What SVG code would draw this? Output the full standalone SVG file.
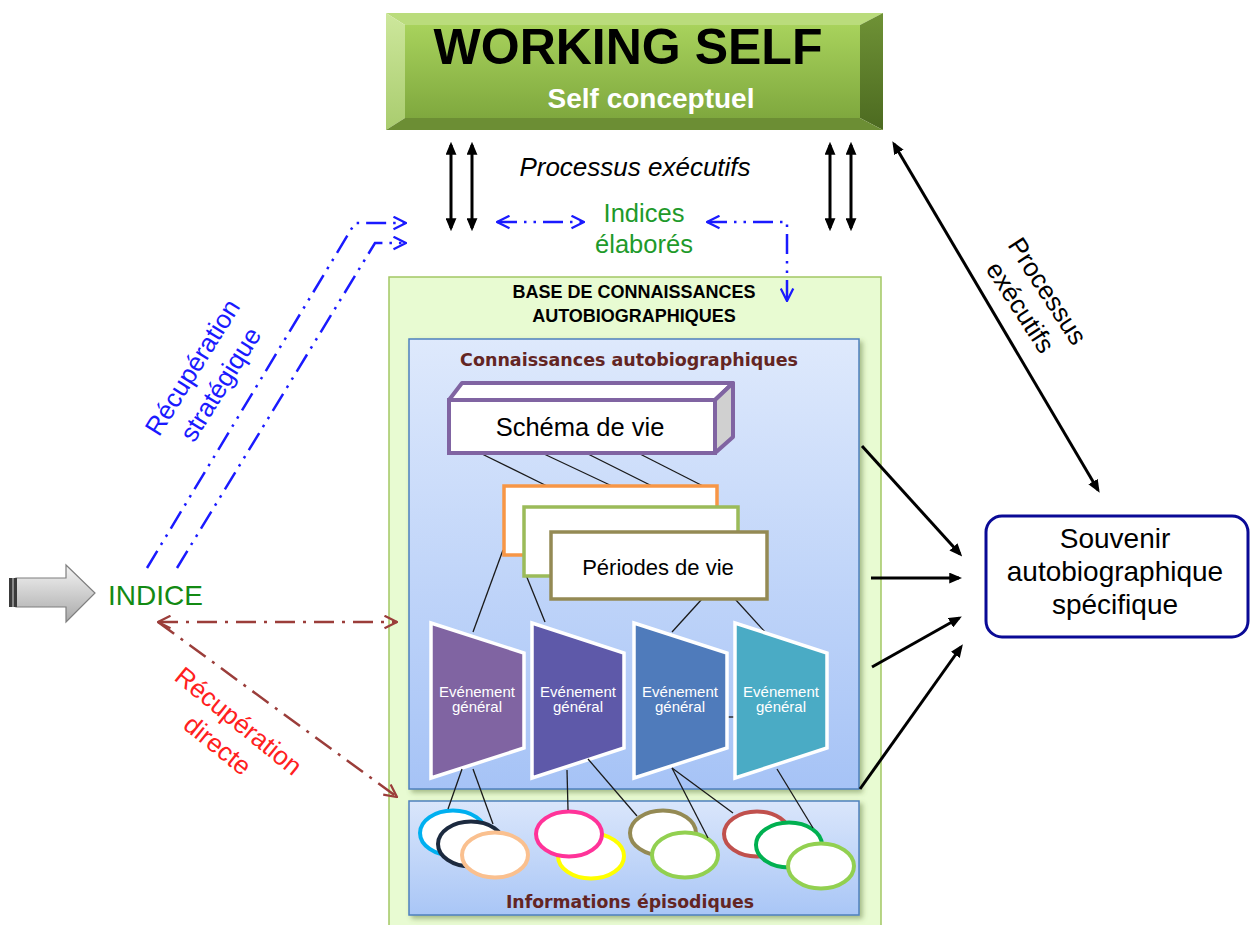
<svg xmlns="http://www.w3.org/2000/svg" width="1251" height="925" viewBox="0 0 1251 925">
<defs>
<linearGradient id="gFace" x1="0" y1="0" x2="0" y2="1"><stop offset="0" stop-color="#a8d25c"/><stop offset="1" stop-color="#7fa83e"/></linearGradient>
<linearGradient id="gRight" x1="0" y1="0" x2="0" y2="1"><stop offset="0" stop-color="#6f9236"/><stop offset="1" stop-color="#4c6a20"/></linearGradient>
<linearGradient id="gLeft" x1="0" y1="0" x2="0" y2="1"><stop offset="0" stop-color="#cde79c"/><stop offset="1" stop-color="#a9cc6e"/></linearGradient>
<linearGradient id="gBlue" x1="0" y1="0" x2="0" y2="1"><stop offset="0" stop-color="#dee9fc"/><stop offset="1" stop-color="#a6c3f6"/></linearGradient>
<linearGradient id="gBlue2" x1="0" y1="0" x2="0" y2="1"><stop offset="0" stop-color="#dae6fb"/><stop offset="1" stop-color="#a9c6f6"/></linearGradient>
<linearGradient id="gGray" x1="0" y1="0" x2="0" y2="1"><stop offset="0" stop-color="#f4f4f4"/><stop offset="1" stop-color="#a9a9a9"/></linearGradient>
<filter id="shadow" x="-5%" y="-5%" width="115%" height="115%"><feDropShadow dx="3" dy="3" stdDeviation="2.5" flood-color="#556b2f" flood-opacity="0.45"/></filter>
<marker id="ah" viewBox="0 0 12 10" refX="9" refY="5" markerWidth="13" markerHeight="11" orient="auto-start-reverse" markerUnits="userSpaceOnUse"><path d="M0,0 L12,5 L0,10 z" fill="#000"/></marker>
<marker id="blueA" viewBox="0 0 12 12" refX="11" refY="6" markerWidth="15" markerHeight="15" orient="auto-start-reverse" markerUnits="userSpaceOnUse"><path d="M1,1 L11,6 L1,11" fill="none" stroke="#1a1aff" stroke-width="1.8"/></marker>
<marker id="brownA" viewBox="0 0 12 12" refX="11" refY="6" markerWidth="15" markerHeight="15" orient="auto-start-reverse" markerUnits="userSpaceOnUse"><path d="M1,1 L11,6 L1,11" fill="none" stroke="#9b3d3a" stroke-width="1.8"/></marker>
<style>
.sans{font-family:"Liberation Sans",Arial,sans-serif}
.dv{font-family:"DejaVu Sans",Verdana,sans-serif}
.tree{stroke:#1a1a1a;stroke-width:1.3;fill:none}
.blk{stroke:#000;stroke-width:3;fill:none}
.blue{stroke:#1a1aff;stroke-width:2.5;fill:none;stroke-dasharray:20 7 2.5 7 2.5 7}
.brown{stroke:#9b3d3a;stroke-width:2.5;fill:none;stroke-dasharray:20 8 3 8}
.ev{stroke:#fff;stroke-width:3.5}
.evt{font-family:"Liberation Sans",Arial,sans-serif;font-size:15px;fill:#fff;text-anchor:middle}
.ell{fill:#fff;stroke-width:4}
</style>
</defs>
<rect width="1251" height="925" fill="#fff"/>

<g id="working-self">
<rect x="405" y="25" width="455" height="93" fill="url(#gFace)"/>
<polygon points="386,13 883,13 860,25 405,25" fill="#badc7c"/>
<polygon points="386,13 405,25 405,118 386,130" fill="url(#gLeft)"/>
<polygon points="883,13 883,130 860,118 860,25" fill="url(#gRight)"/>
<polygon points="386,130 405,118 860,118 883,130" fill="#6c8e34"/>
<text x="628" y="64" class="sans" font-size="50" font-weight="bold" text-anchor="middle" fill="#000">WORKING SELF</text>
<text x="651" y="108" class="sans" font-size="28" font-weight="bold" text-anchor="middle" fill="#fff">Self conceptuel</text>
</g>

<g id="labels-top">
<text x="635" y="176" class="sans" font-size="26" font-style="italic" text-anchor="middle" fill="#000">Processus exécutifs</text>
<text x="644" y="222" class="sans" font-size="25.5" text-anchor="middle" fill="#1e9a2a">Indices</text>
<text x="644" y="253" class="sans" font-size="25.5" text-anchor="middle" fill="#1e9a2a">élaborés</text>
</g>

<g id="base-connaissances">
<rect x="389" y="277" width="492" height="670" fill="#e8fbd2" stroke="#a3c764" stroke-width="1.5"/>
<text x="634" y="298" class="sans" font-size="18" font-weight="bold" text-anchor="middle" fill="#000">BASE DE CONNAISSANCES</text>
<text x="634" y="322" class="sans" font-size="18" font-weight="bold" text-anchor="middle" fill="#000">AUTOBIOGRAPHIQUES</text>
</g>

<g id="connaissances">
<rect x="409" y="339" width="450" height="450" fill="url(#gBlue)" stroke="#4f81bd" stroke-width="1.5" filter="url(#shadow)"/>
<text x="629" y="366" class="dv" font-size="17.5" font-weight="bold" text-anchor="middle" fill="#632523">Connaissances autobiographiques</text>
</g>

<g id="episodiques">
<rect x="409" y="801" width="450" height="114" fill="url(#gBlue2)" stroke="#4f81bd" stroke-width="1.5" filter="url(#shadow)"/>
<text x="630" y="908" class="dv" font-size="17.3" font-weight="bold" text-anchor="middle" fill="#632523">Informations épisodiques</text>
</g>

<g id="tree-lines">
<line class="tree" x1="482" y1="454" x2="547" y2="486"/>
<line class="tree" x1="544" y1="454" x2="612" y2="486"/>
<line class="tree" x1="588" y1="454" x2="652" y2="486"/>
<line class="tree" x1="640" y1="454" x2="703" y2="486"/>
<line class="tree" x1="503" y1="550" x2="473" y2="632"/>
<line class="tree" x1="524" y1="570" x2="545" y2="622"/>
<line class="tree" x1="702" y1="599" x2="672" y2="632"/>
<line class="tree" x1="735" y1="599" x2="765" y2="632"/>
<line class="tree" x1="727" y1="717" x2="735" y2="717"/>
</g>

<g id="schema-de-vie">
<polygon points="449,400 462,383 733,383 715,400" fill="#fff" stroke="#8064a2" stroke-width="4" stroke-linejoin="round"/>
<polygon points="715,400 733,383 733,437 715,453" fill="#d0d0d0" stroke="#8064a2" stroke-width="4" stroke-linejoin="round"/>
<rect x="449" y="400" width="266" height="53" fill="#fff" stroke="#8064a2" stroke-width="4"/>
<text x="580" y="436" class="sans" font-size="25.5" text-anchor="middle" fill="#000">Schéma de vie</text>
</g>

<g id="periodes-de-vie">
<rect x="504" y="486" width="213" height="69" fill="#fff" stroke="#f79646" stroke-width="3.5"/>
<rect x="524" y="507" width="214" height="69" fill="#fff" stroke="#9bbb59" stroke-width="3.5"/>
<rect x="551" y="532" width="216" height="67" fill="#fff" stroke="#948a54" stroke-width="3.5"/>
<text x="658" y="575" class="sans" font-size="22" text-anchor="middle" fill="#000">Périodes de vie</text>
</g>

<g id="evenement-1">
<polygon class="ev" points="431,623 524,653 524,748 431,778" fill="#8064a2"/>
<text class="evt" x="477" y="697">Evénement</text><text class="evt" x="477" y="712">général</text>
</g>
<g id="evenement-2">
<polygon class="ev" points="532,623 624,653 624,748 532,778" fill="#5e59a9"/>
<text class="evt" x="578" y="697">Evénement</text><text class="evt" x="578" y="712">général</text>
</g>
<g id="evenement-3">
<polygon class="ev" points="634,623 727,653 727,748 634,778" fill="#4f7bbb"/>
<text class="evt" x="680" y="697">Evénement</text><text class="evt" x="680" y="712">général</text>
</g>
<g id="evenement-4">
<polygon class="ev" points="735,623 827,653 827,748 735,778" fill="#4aabc5"/>
<text class="evt" x="781" y="697">Evénement</text><text class="evt" x="781" y="712">général</text>
</g>

<g id="ellipses">
<ellipse class="ell" cx="453" cy="833" rx="33" ry="22.5" stroke="#00b0f0"/>
<ellipse class="ell" cx="471" cy="844" rx="33" ry="22.5" stroke="#1c2a3f"/>
<ellipse class="ell" cx="495" cy="855" rx="33" ry="22.5" stroke="#fac08f"/>
<ellipse class="ell" cx="591" cy="856" rx="33" ry="22.5" stroke="#ffff00"/>
<ellipse class="ell" cx="569" cy="834" rx="33" ry="22.5" stroke="#ff3399"/>
<ellipse class="ell" cx="663" cy="833" rx="33" ry="22.5" stroke="#948a54"/>
<ellipse class="ell" cx="685" cy="855" rx="33" ry="22.5" stroke="#92d050"/>
<ellipse class="ell" cx="757" cy="834" rx="33" ry="22.5" stroke="#c0504d"/>
<ellipse class="ell" cx="789" cy="845" rx="33" ry="22.5" stroke="#00b050"/>
<ellipse class="ell" cx="821" cy="866" rx="33" ry="22.5" stroke="#92d050"/>
</g>

<g id="episode-lines">
<line class="tree" x1="462" y1="769" x2="448" y2="809"/>
<line class="tree" x1="473" y1="769" x2="493" y2="824"/>
<line class="tree" x1="567" y1="770" x2="568" y2="810"/>
<line class="tree" x1="588" y1="759" x2="637" y2="816"/>
<line class="tree" x1="672" y1="768" x2="708" y2="838"/>
<line class="tree" x1="672" y1="768" x2="733" y2="813"/>
<line class="tree" x1="777" y1="769" x2="813" y2="828"/>
</g>

<g id="souvenir">
<rect x="986" y="516" width="262" height="121" rx="16" fill="#fff" stroke="#0a0a96" stroke-width="3"/>
<text x="1115" y="548" class="sans" font-size="28" text-anchor="middle" fill="#000">Souvenir</text>
<text x="1115" y="581" class="sans" font-size="28" text-anchor="middle" fill="#000">autobiographique</text>
<text x="1115" y="614" class="sans" font-size="28" text-anchor="middle" fill="#000">spécifique</text>
</g>

<g id="indice">
<polygon points="16,578 66,578 66,565 95,593 66,622 66,607 16,607" fill="url(#gGray)" stroke="#7f7f7f" stroke-width="1.2"/>
<rect x="9" y="578" width="8" height="29" fill="#3a3a3a"/>
<rect x="12" y="578" width="2" height="29" fill="#888"/>
<text x="108" y="605" class="sans" font-size="28" fill="#138a13">INDICE</text>
</g>

<g id="connectors">
<line class="blk" x1="451" y1="145" x2="451" y2="228" marker-start="url(#ah)" marker-end="url(#ah)"/>
<line class="blk" x1="472" y1="145" x2="472" y2="228" marker-start="url(#ah)" marker-end="url(#ah)"/>
<line class="blk" x1="830" y1="145" x2="830" y2="228" marker-start="url(#ah)" marker-end="url(#ah)"/>
<line class="blk" x1="851" y1="145" x2="851" y2="228" marker-start="url(#ah)" marker-end="url(#ah)"/>
<line class="blk" x1="894" y1="144" x2="1098" y2="490" marker-start="url(#ah)" marker-end="url(#ah)"/>
<line class="blk" x1="862" y1="446" x2="960" y2="554" marker-end="url(#ah)"/>
<line class="blk" x1="871" y1="578" x2="959" y2="578" marker-end="url(#ah)"/>
<line class="blk" x1="872" y1="667" x2="959" y2="618" marker-end="url(#ah)"/>
<line class="blk" x1="860" y1="789" x2="961" y2="647" marker-end="url(#ah)"/>

<line class="blue" x1="497" y1="222" x2="584" y2="222" marker-start="url(#blueA)" marker-end="url(#blueA)"/>
<polyline class="blue" points="707,222 787,222 787,301" marker-start="url(#blueA)" marker-end="url(#blueA)"/>
<polyline class="blue" points="147,568 355,223 406,223" marker-end="url(#blueA)"/>
<polyline class="blue" points="177,568 375,243 406,243" marker-end="url(#blueA)"/>

<line class="brown" x1="158" y1="622" x2="397" y2="622" marker-start="url(#brownA)" marker-end="url(#brownA)"/>
<line class="brown" x1="158" y1="622" x2="397" y2="797" marker-end="url(#brownA)"/>
</g>

<g id="rotated-labels">
<text class="sans" font-size="26" fill="#1a1aff" text-anchor="middle" transform="translate(200,372) rotate(-58)">Récupération</text>
<text class="sans" font-size="26" fill="#1a1aff" text-anchor="middle" transform="translate(228,389) rotate(-58)">stratégique</text>
<text class="sans" font-size="26" fill="#ff2020" text-anchor="middle" transform="translate(233,728) rotate(39)">Récupération</text>
<text class="sans" font-size="26" fill="#ff2020" text-anchor="middle" transform="translate(212,752) rotate(39)">directe</text>
<text class="sans" font-size="26" fill="#000" text-anchor="middle" transform="translate(1040,296) rotate(57)">Processus</text>
<text class="sans" font-size="26" fill="#000" text-anchor="middle" transform="translate(1013,312) rotate(57)">exécutifs</text>
</g>
</svg>
